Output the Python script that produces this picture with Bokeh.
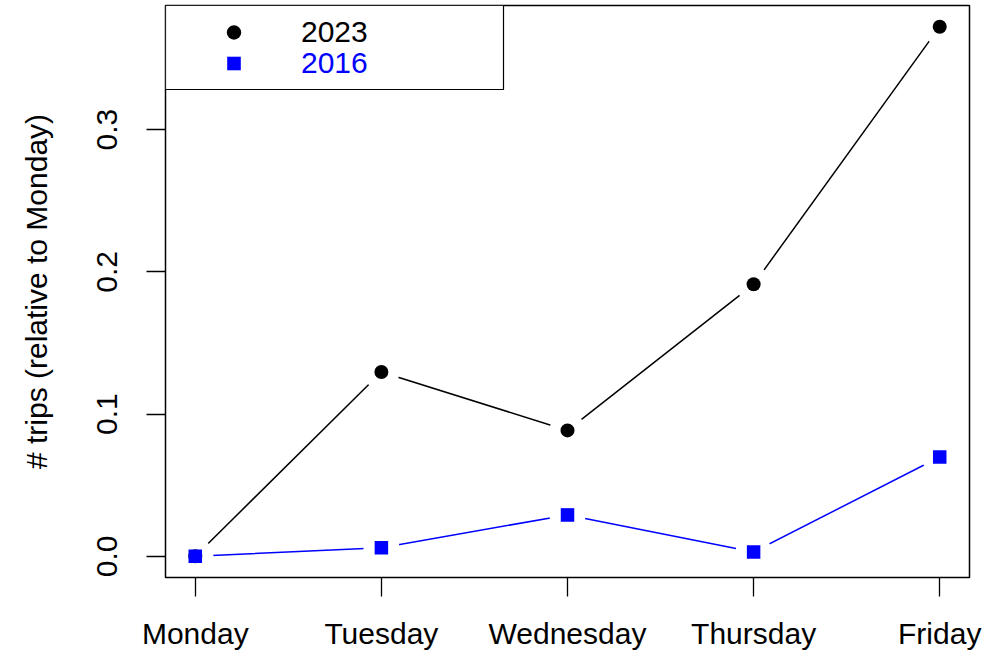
from bokeh.plotting import figure
from bokeh.models import (Range1d, FixedTicker, Legend, LegendItem,
                          ColumnDataSource, BoxAnnotation, Node)
from bokeh.core.properties import value
from bokeh.embed import file_html
from bokeh.resources import INLINE

# Weekday trip counts relative to Monday
days = ["Monday", "Tuesday", "Wednesday", "Thursday", "Friday"]
trips_2023 = [0.0, 0.1296, 0.0885, 0.1912, 0.3723]
trips_2016 = [0.0, 0.0061, 0.0291, 0.0031, 0.0698]
y_ticks = [0.0, 0.1, 0.2, 0.3]
y_tick_labels = ["0.0", "0.1", "0.2", "0.3"]
series_labels = ["2023", "2016"]

FONT = "Liberation Sans"
BLUE = "#0000ff"

positions = list(range(1, len(days) + 1))


def expand(lo, hi, frac=0.04):
    """Pad a data span by a fixed fraction on each side."""
    pad = (hi - lo) * frac
    return lo - pad, hi + pad


all_y = trips_2023 + trips_2016
x_lo, x_hi = expand(min(positions), max(positions))
y_lo, y_hi = expand(min(all_y), max(all_y))

src_2023 = ColumnDataSource(dict(x=positions, y=trips_2023))
src_2016 = ColumnDataSource(dict(x=positions, y=trips_2016))

p = figure(width=997, height=653, output_backend="svg", toolbar_location=None,
           x_range=Range1d(x_lo, x_hi), y_range=Range1d(y_lo, y_hi),
           min_border_left=165, min_border_right=28,
           min_border_top=5, min_border_bottom=76)

p.background_fill_color = "white"
p.border_fill_color = "white"
p.xgrid.visible = False
p.ygrid.visible = False
p.outline_line_color = "black"
p.outline_line_width = 1.5

# x axis: one tick per weekday
xa = p.xaxis[0]
xa.ticker = FixedTicker(ticks=positions)
xa.major_label_overrides = {pos: d for pos, d in zip(positions, days)}
xa.axis_line_color = None
xa.minor_tick_line_color = None
xa.major_tick_in = 0
xa.major_tick_out = 19
xa.major_tick_line_width = 1.3
xa.major_tick_line_color = "black"
xa.major_label_standoff = 20
xa.major_label_text_font = FONT
xa.major_label_text_font_size = "30px"
xa.major_label_text_color = "black"

# y axis: labels parallel to the axis
ya = p.yaxis[0]
ya.ticker = FixedTicker(ticks=y_ticks)
ya.major_label_overrides = {t: s for t, s in zip(y_ticks, y_tick_labels)}
ya.major_label_orientation = "vertical"
ya.axis_line_color = None
ya.minor_tick_line_color = None
ya.major_tick_in = 0
ya.major_tick_out = 19
ya.major_tick_line_width = 1.3
ya.major_tick_line_color = "black"
ya.major_label_standoff = 29
ya.major_label_text_font = FONT
ya.major_label_text_font_size = "30px"
ya.major_label_text_color = "black"
ya.axis_label = "# trips (relative to Monday)"
ya.axis_label_text_font = FONT
ya.axis_label_text_font_size = "30px"
ya.axis_label_text_font_style = "normal"
ya.axis_label_text_color = "black"
ya.axis_label_standoff = 42

# connecting lines, broken around each point by a white halo
p.line("x", "y", source=src_2023, line_color="black", line_width=1.5)
p.line("x", "y", source=src_2016, line_color=BLUE, line_width=1.5)
for src in (src_2023, src_2016):
    p.scatter("x", "y", source=src, marker="circle", size=36,
              fill_color="white", line_color=None)

r2023 = p.scatter("x", "y", source=src_2023, marker="circle", size=14,
                  fill_color="black", line_color=None)
r2016 = p.scatter("x", "y", source=src_2016, marker="square", size=13.5,
                  fill_color=BLUE, line_color=None)

# legend frame anchored to the top-left corner of the plot frame
legend_frame = BoxAnnotation(
    left=Node(target="frame", symbol="left"),
    top=Node(target="frame", symbol="top"),
    right=Node(target="frame", symbol="left", offset=338),
    bottom=Node(target="frame", symbol="top", offset=84),
    fill_color="white", fill_alpha=1.0,
    line_color="black", line_width=1.2, line_alpha=1.0)
p.add_layout(legend_frame)

# one borderless legend per series so each label keeps its series colour
legend_style = dict(margin=0, padding=2, glyph_width=117, label_standoff=9,
                    label_width=60, label_text_font=FONT,
                    label_text_font_size="30px",
                    background_fill_alpha=0.0, border_line_color=None)

legend_2023 = Legend(
    items=[LegendItem(label=value(series_labels[0]), renderers=[r2023])],
    location=(10, 527), glyph_height=36, label_text_color="black",
    **legend_style)
p.add_layout(legend_2023)

legend_2016 = Legend(
    items=[LegendItem(label=value(series_labels[1]), renderers=[r2016])],
    location=(10, 497), glyph_height=34, label_text_color=BLUE,
    **legend_style)
p.add_layout(legend_2016)

open("out.html", "w").write(file_html(p, INLINE))
